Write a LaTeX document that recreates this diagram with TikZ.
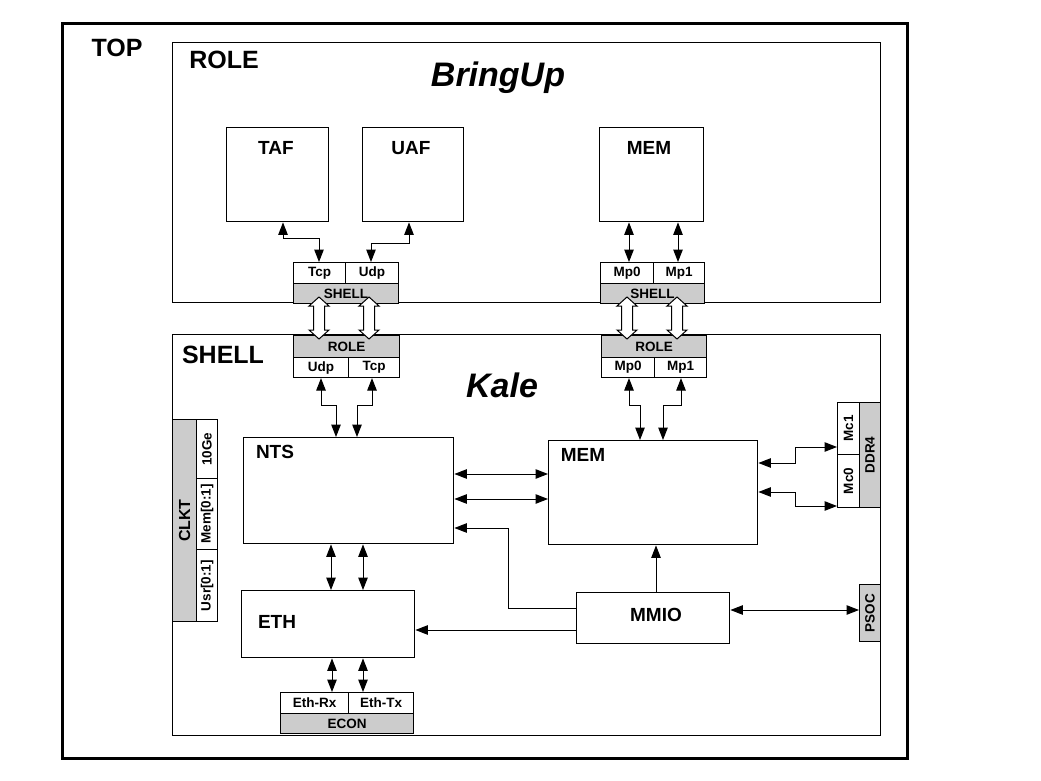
\documentclass[tikz,border=0pt]{standalone}
\usepackage{fontspec}
\setmainfont{Liberation Sans}
\usetikzlibrary{arrows.meta}
\begin{document}
\begin{tikzpicture}[x=1pt,y=-1pt,
  box/.style={draw, line width=1.4pt, anchor=north west, inner sep=0pt, rectangle},
  cell/.style={draw, line width=1.1pt, anchor=north west, inner sep=0pt, rectangle, font=\bfseries\fontsize{13.5}{13.5}\selectfont},
  gcell/.style={cell, fill=black!20},
  ctext/.style={inner sep=0pt, font=\bfseries\fontsize{13.5}{13.5}\selectfont},
  lbl/.style={font=\bfseries\fontsize{19}{19}\selectfont, inner sep=0pt},
  biglbl/.style={font=\bfseries\fontsize{25}{25}\selectfont, inner sep=0pt},
  ttl/.style={font=\bfseries\itshape\fontsize{34}{34}\selectfont, inner sep=0pt, anchor=base},
  rot/.style={rotate=90, inner sep=0pt},
  conn/.style={line width=1pt, {Triangle[length=12.5pt,width=9.5pt]}-{Triangle[length=12.5pt,width=9.5pt]}},
  conn1/.style={line width=1pt, -{Triangle[length=12.5pt,width=9.5pt]}},
  hollow/.style={draw, fill=white, line width=1pt},
]
\useasboundingbox (0,0) rectangle (1041,781);
\fill[white] (0,0) rectangle (1041,781);

% outer frame and areas
\node[box, line width=3pt, minimum width=845pt, minimum height=735pt] (TOP) at (61,22) {};
\node[biglbl] (toplbl) at (117,48) {TOP};
\node[box, minimum width=708pt, minimum height=260pt] (ROLE) at (172,42) {};
\node[biglbl] (rolelbl) at (224,60) {ROLE};
\node[ttl] (bringup) at (498,87) {BringUp};
\node[box, minimum width=708pt, minimum height=401pt] (SHELL) at (172,334) {};
\node[biglbl] (shelllbl) at (223,355) {SHELL};
\node[ttl] (kale) at (502,397) {Kale};

% role blocks
\node[box, minimum width=102pt, minimum height=94pt] (TAF) at (226,127) {};
\node[lbl] (taflbl) at (276,148) {TAF};
\node[box, minimum width=101pt, minimum height=94pt] (UAF) at (362,127) {};
\node[lbl] (uaflbl) at (411,148) {UAF};
\node[box, minimum width=104pt, minimum height=94pt] (RMEM) at (599,127) {};
\node[lbl] (rmemlbl) at (649,148) {MEM};

% role-side shell interface
\node[cell, minimum width=52pt, minimum height=21pt] (Tcp) at (293,262) {Tcp};
\node[cell, minimum width=53pt, minimum height=21pt] (Udp) at (345,262) {Udp};
\node[gcell, minimum width=105pt, minimum height=20pt] (RSH) at (293,283) {};
\node[cell, minimum width=53pt, minimum height=21pt] (Mp0) at (600,262) {Mp0};
\node[cell, minimum width=51pt, minimum height=21pt] (Mp1) at (653,262) {Mp1};
\node[gcell, minimum width=104pt, minimum height=20pt] (MSH) at (600,283) {};

% shell-side role interface
\node[gcell, minimum width=106pt, minimum height=22pt] (SRO) at (293,335) {};
\node[cell, minimum width=55pt, minimum height=20pt] (SUdp) at (293,357) {Udp};
\node[cell, minimum width=51pt, minimum height=20pt] (STcp) at (348,357) {Tcp};
\node[gcell, minimum width=105pt, minimum height=22pt] (MRO) at (601,335) {};
\node[cell, minimum width=53pt, minimum height=20pt] (SMp0) at (601,357) {Mp0};
\node[cell, minimum width=52pt, minimum height=20pt] (SMp1) at (654,357) {Mp1};

% hollow double arrows between SHELL and ROLE interfaces
\foreach \cx/\nm in {319/h1, 369/h2, 627/h3, 677/h4}{
  \draw[hollow] (\cx,297) -- ++(10,9) -- ++(-4.5,0) -- ++(0,24) -- ++(4.5,0)
     -- (\cx,339) -- ++(-10,-9) -- ++(4.5,0) -- ++(0,-24) -- ++(-4.5,0) -- cycle;
}
\node[ctext] (rshlbl) at (RSH.center) {SHELL};
\node[ctext] (mshlbl) at (MSH.center) {SHELL};
\node[ctext] (srolbl) at (SRO.center) {ROLE};
\node[ctext] (mrolbl) at (MRO.center) {ROLE};

% shell blocks
\node[box, minimum width=210pt, minimum height=106pt] (NTS) at (243,437) {};
\node[lbl] (ntslbl) at (275,452) {NTS};
\node[box, minimum width=209pt, minimum height=104pt] (SMEM) at (548,440) {};
\node[lbl] (smemlbl) at (583,455) {MEM};
\node[box, minimum width=173pt, minimum height=67pt] (ETH) at (241,590) {};
\node[lbl] (ethlbl) at (277,622) {ETH};
\node[box, minimum width=153pt, minimum height=51pt] (MMIO) at (576,592) {};
\node[lbl] (mmiolbl) at (656,615) {MMIO};

% CLKT
\node[gcell, minimum width=24pt, minimum height=202pt] (CLKT) at (172,419) {};
\node[rot, font=\bfseries\fontsize{16}{16}\selectfont] (clktlbl) at (CLKT.center) {CLKT};
\node[cell, minimum width=21pt, minimum height=59pt] (G10) at (196,419) {};
\node[rot, ctext] (g10lbl) at (G10.center) {10Ge};
\node[cell, minimum width=21pt, minimum height=71pt] (MemC) at (196,478) {};
\node[rot, ctext] (memclbl) at (MemC.center) {Mem[0:1]};
\node[cell, minimum width=21pt, minimum height=72pt] (UsrC) at (196,549) {};
\node[rot, ctext] (usrclbl) at (UsrC.center) {Usr[0:1]};

% DDR4
\node[gcell, minimum width=21pt, minimum height=105pt] (DDR) at (859,402) {};
\node[rot, ctext] (ddrlbl) at (DDR.center) {DDR4};
\node[cell, minimum width=22pt, minimum height=52pt] (Mc1) at (837,402) {};
\node[rot, ctext] (mc1lbl) at (Mc1.center) {Mc1};
\node[cell, minimum width=22pt, minimum height=53pt] (Mc0) at (837,454) {};
\node[rot, ctext] (mc0lbl) at (Mc0.center) {Mc0};

% PSOC
\node[gcell, minimum width=21pt, minimum height=57pt] (PSOC) at (859,584) {};
\node[rot, ctext] (psoclbl) at (PSOC.center) {PSOC};

% ECON
\node[cell, minimum width=68pt, minimum height=21pt] (EthRx) at (280,692) {Eth-Rx};
\node[cell, minimum width=65pt, minimum height=21pt] (EthTx) at (348,692) {Eth-Tx};
\node[gcell, minimum width=133pt, minimum height=20pt] (ECON) at (280,713) {ECON};

% role connectors
\draw[conn] (TAF.south -| 283,0) -- (283,238) -- (319,238) -- (Tcp.north -| 319,0);
\draw[conn] (Udp.north -| 371,0) -- (371,243) -- (409,243) -- (UAF.south -| 409,0);
\draw[conn] (RMEM.south -| 629,0) -- (Mp0.north -| 629,0);
\draw[conn] (RMEM.south -| 678,0) -- (Mp1.north -| 678,0);

% shell connectors
\draw[conn] (SUdp.south -| 321,0) -- (321,405) -- (336,405) -- (NTS.north -| 336,0);
\draw[conn] (STcp.south -| 372,0) -- (372,405) -- (357,405) -- (NTS.north -| 357,0);
\draw[conn] (SMp0.south -| 629,0) -- (629,405) -- (640,405) -- (SMEM.north -| 640,0);
\draw[conn] (SMp1.south -| 681,0) -- (681,405) -- (663,405) -- (SMEM.north -| 663,0);
\draw[conn] (NTS.east |- 0,474) -- (SMEM.west |- 0,474);
\draw[conn] (NTS.east |- 0,499) -- (SMEM.west |- 0,499);
\draw[conn1] (MMIO.west |- 0,608) -- (508,608) -- (508,528) -- (NTS.east |- 0,528);
\draw[conn1] (MMIO.west |- 0,630) -- (ETH.east |- 0,630);
\draw[conn1] (MMIO.north -| 656,0) -- (SMEM.south -| 656,0);
\draw[conn] (MMIO.east |- 0,610) -- (PSOC.west |- 0,610);
\draw[conn] (SMEM.east |- 0,463) -- (795,463) -- (795,447) -- (Mc1.west |- 0,447);
\draw[conn] (SMEM.east |- 0,492) -- (795,492) -- (795,506) -- (Mc0.west |- 0,506);
\draw[conn] (NTS.south -| 331,0) -- (ETH.north -| 331,0);
\draw[conn] (NTS.south -| 363,0) -- (ETH.north -| 363,0);
\draw[conn] (ETH.south -| 332,0) -- (EthRx.north -| 332,0);
\draw[conn] (ETH.south -| 363,0) -- (EthTx.north -| 363,0);
\end{tikzpicture}
\end{document}
